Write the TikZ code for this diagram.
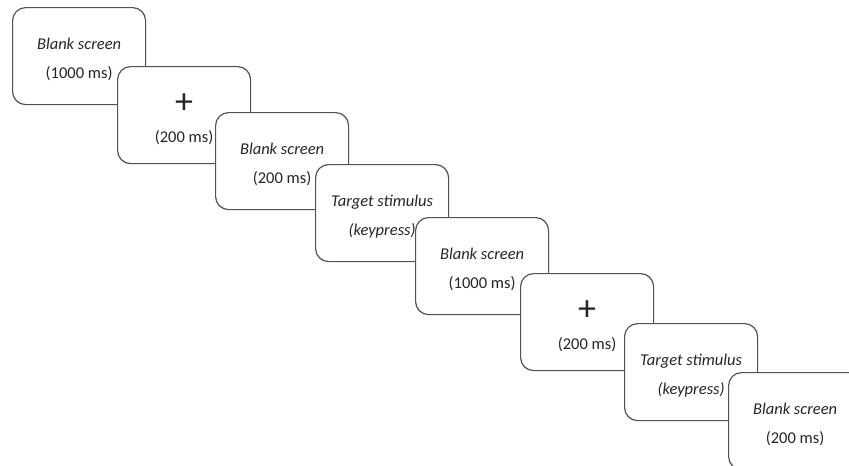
\documentclass[tikz,border=0pt]{standalone}
\usepackage{fontspec}
\setmainfont{Carlito}
\begin{document}
\begin{tikzpicture}[x=1pt,y=-1pt,
  screen/.style={draw=black!68, line width=1.2pt, fill=white, rounded corners=13pt,
    minimum width=133pt, minimum height=97pt, inner sep=0pt, anchor=north west},
  txt/.style={align=center, text=black!85, font=\fontsize{16.5}{29}\selectfont, inner sep=0pt},
  cross/.style={text=black!85, font=\fontsize{36}{36}\selectfont, inner sep=0pt},
]
\useasboundingbox (0,0) rectangle (849,466);
\clip (0,0) rectangle (849,466);
% Sequence of screens, each one laid over the previous
\node[screen] (s1) at (12, 7) {};
\node[txt] (t1) at ([yshift=-3pt]s1.center) {\itshape Blank screen\\(1000 ms)};

\node[screen] (s2) at (117, 66) {};
\node[cross] (c2) at ([yshift=-38pt]s2.north) {+};
\node[txt] (t2) at ([yshift=-72pt]s2.north) {(200 ms)};

\node[screen] (s3) at (215, 112) {};
\node[txt] (t3) at ([yshift=-3pt]s3.center) {\itshape Blank screen\\(200 ms)};

\node[screen] (s4) at (315, 164) {};
\node[txt] (t4) at ([yshift=-3pt]s4.center) {\itshape Target stimulus\\\itshape (keypress)};

\node[screen] (s5) at (415, 217) {};
\node[txt] (t5) at ([yshift=-3pt]s5.center) {\itshape Blank screen\\(1000 ms)};

\node[screen] (s6) at (520, 273) {};
\node[cross] (c6) at ([yshift=-38pt]s6.north) {+};
\node[txt] (t6) at ([yshift=-72pt]s6.north) {(200 ms)};

\node[screen] (s7) at (624, 323) {};
\node[txt] (t7) at ([yshift=-3pt]s7.center) {\itshape Target stimulus\\\itshape (keypress)};

\node[screen] (s8) at (728, 372) {};
\node[txt] (t8) at ([yshift=-3pt]s8.center) {\itshape Blank screen\\(200 ms)};
\end{tikzpicture}
\end{document}
